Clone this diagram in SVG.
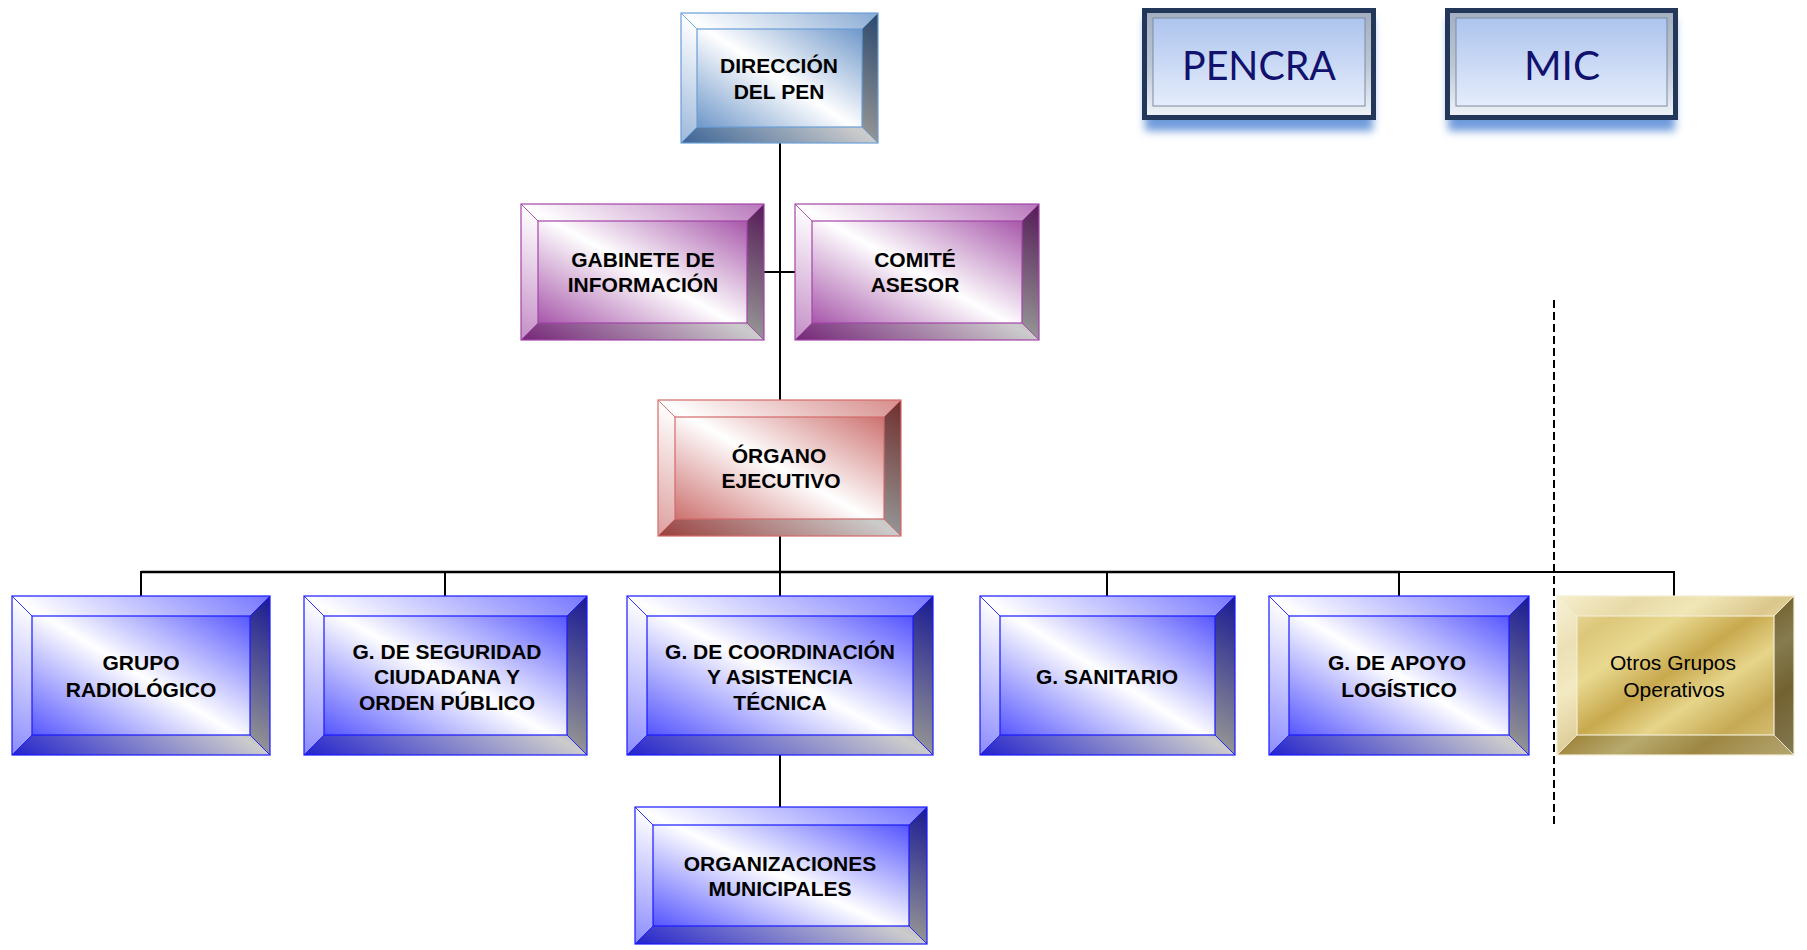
<svg xmlns="http://www.w3.org/2000/svg" width="1807" height="950" viewBox="0 0 1807 950">
<defs>
<style>
.bg{fill:#fff}
.bt{fill:#fff;fill-opacity:.35}
.bl{fill:#fff;fill-opacity:.45}
.br{fill:#000;fill-opacity:.42}
.bb{fill:#000;fill-opacity:.2}
.edge{fill:none;stroke-width:1.2}
.cl{fill:none;stroke-width:.9}
.blue .face{fill:url(#gBlue)} .blue .edge,.blue .cl{stroke:#1a1aff}
.purple .face{fill:url(#gPurple)} .purple .edge,.purple .cl{stroke:#a444a8}
.red .face{fill:url(#gRed)} .red .edge,.red .cl{stroke:#d46a6a}
.steel .face{fill:url(#gSteel)} .steel .edge,.steel .cl{stroke:#6a9ed8}
.gold .face{fill:url(#gGold)} .gold .edge,.gold .cl{stroke:#f3edd2}
.lbl{font-family:"Liberation Sans",Arial,sans-serif;font-weight:bold;font-size:21px;fill:#000;text-anchor:middle}
.lblr{font-family:"Liberation Sans",Arial,sans-serif;font-size:21px;fill:#000;text-anchor:middle}
.big{font-family:Lato,"Open Sans",sans-serif;font-size:41px;fill:#11116e;text-anchor:middle}
.conn{stroke:#000;stroke-width:2;fill:none}
.dash{stroke:#000;stroke-width:2;stroke-dasharray:8 4;fill:none}
.frame{fill:#22375a}
.ring{fill:url(#gRing)}
.pface{fill:url(#gFace);stroke:#7d8ba2;stroke-width:1}
.shadow{fill:#6f9bdb}
</style>
<linearGradient id="gBlue" x1="1" y1="0" x2="0" y2="1"><stop offset="0" stop-color="#2c2cff"/><stop offset="0.5" stop-color="#fff"/><stop offset="1" stop-color="#2c2cff"/></linearGradient>
<linearGradient id="gPurple" x1="1" y1="0" x2="0" y2="1"><stop offset="0" stop-color="#922f96"/><stop offset="0.5" stop-color="#fff"/><stop offset="1" stop-color="#922f96"/></linearGradient>
<linearGradient id="gRed" x1="1" y1="0" x2="0" y2="1"><stop offset="0" stop-color="#c0504d"/><stop offset="0.5" stop-color="#fff"/><stop offset="1" stop-color="#c0504d"/></linearGradient>
<linearGradient id="gSteel" x1="1" y1="0" x2="0" y2="1"><stop offset="0" stop-color="#4a7dbc"/><stop offset="0.5" stop-color="#fff"/><stop offset="1" stop-color="#4a7dbc"/></linearGradient>
<linearGradient id="gGold" x1="0" y1="0" x2="1" y2="1">
<stop offset="0" stop-color="#f1e7b6"/><stop offset="0.18" stop-color="#dcc77a"/><stop offset="0.32" stop-color="#e8d990"/><stop offset="0.48" stop-color="#c8a94e"/><stop offset="0.62" stop-color="#e6d58a"/><stop offset="0.78" stop-color="#c6a954"/><stop offset="1" stop-color="#e2d08e"/>
</linearGradient>
<linearGradient id="gFace" x1="0" y1="0" x2="0" y2="1"><stop offset="0" stop-color="#adc4ee"/><stop offset="1" stop-color="#e5edfb"/></linearGradient>
<linearGradient id="gRing" x1="0" y1="0" x2="0" y2="1"><stop offset="0" stop-color="#a4b0c2"/><stop offset="0.5" stop-color="#bcc6d4"/><stop offset="1" stop-color="#eef2f8"/></linearGradient>
<filter id="sh" x="-10%" y="-20%" width="120%" height="150%"><feGaussianBlur stdDeviation="4"/></filter>
</defs>
<rect class="bg" x="0" y="0" width="1807" height="950"/>

<g id="connectors">
<line class="conn" x1="780" y1="143" x2="780" y2="400"/>
<line class="conn" x1="764" y1="272" x2="795" y2="272"/>
<line class="conn" x1="780" y1="536" x2="780" y2="572"/>
<line class="conn" x1="141" y1="572" x2="1400" y2="572" style="stroke-width:2.6"/>
<line class="conn" x1="1400" y1="572" x2="1675" y2="572"/>
<line class="conn" x1="141" y1="571" x2="141" y2="596"/>
<line class="conn" x1="445" y1="571" x2="445" y2="596"/>
<line class="conn" x1="780" y1="571" x2="780" y2="596"/>
<line class="conn" x1="1107" y1="571" x2="1107" y2="596"/>
<line class="conn" x1="1399" y1="571" x2="1399" y2="596"/>
<line class="conn" x1="1674" y1="571" x2="1674" y2="596"/>
<line class="conn" x1="780" y1="755" x2="780" y2="807"/>
<line class="dash" x1="1554" y1="300" x2="1554" y2="826"/>
</g>

<g id="direccion" class="steel" transform="translate(681,13)">
<rect class="face" x="0" y="0" width="197" height="130"/>
<polygon class="bt" points="0,0 197,0 181,16 16,16"/>
<polygon class="br" points="197,0 197,130 181,114 181,16"/>
<polygon class="bb" points="0,130 197,130 181,114 16,114"/>
<polygon class="bl" points="0,0 0,130 16,114 16,16"/>
<rect class="edge" x="0" y="0" width="197" height="130"/>
<rect class="edge" x="16" y="16" width="165" height="98"/>
<path class="cl" d="M0,0L16,16M197,0L181,16M0,130L16,114M197,130L181,114"/>
<text class="lbl" x="98" y="60">DIRECCIÓN</text>
<text class="lbl" x="98" y="85.5">DEL PEN</text>
</g>

<g id="pencra" transform="translate(1142,8)">
<rect class="shadow" x="3" y="11" width="228" height="112" filter="url(#sh)"/>
<rect class="frame" x="0" y="0" width="234" height="112"/>
<rect class="ring" x="5" y="5" width="224" height="102"/>
<rect class="pface" x="11" y="10" width="212" height="88"/>
<text class="big" x="117" y="72" textLength="154" lengthAdjust="spacingAndGlyphs">PENCRA</text>
</g>

<g id="mic" transform="translate(1445,8)">
<rect class="shadow" x="3" y="11" width="227" height="112" filter="url(#sh)"/>
<rect class="frame" x="0" y="0" width="233" height="112"/>
<rect class="ring" x="5" y="5" width="223" height="102"/>
<rect class="pface" x="11" y="10" width="211" height="88"/>
<text class="big" x="117" y="72" textLength="76" lengthAdjust="spacingAndGlyphs">MIC</text>
</g>

<g id="gabinete" class="purple" transform="translate(521,204)">
<rect class="face" x="0" y="0" width="243" height="136"/>
<polygon class="bt" points="0,0 243,0 226,17 17,17"/>
<polygon class="br" points="243,0 243,136 226,119 226,17"/>
<polygon class="bb" points="0,136 243,136 226,119 17,119"/>
<polygon class="bl" points="0,0 0,136 17,119 17,17"/>
<rect class="edge" x="0" y="0" width="243" height="136"/>
<rect class="edge" x="17" y="17" width="209" height="102"/>
<path class="cl" d="M0,0L17,17M243,0L226,17M0,136L17,119M243,136L226,119"/>
<text class="lbl" x="122" y="62.5">GABINETE DE</text>
<text class="lbl" x="122" y="88">INFORMACIÓN</text>
</g>

<g id="comite" class="purple" transform="translate(795,204)">
<rect class="face" x="0" y="0" width="244" height="136"/>
<polygon class="bt" points="0,0 244,0 227,17 17,17"/>
<polygon class="br" points="244,0 244,136 227,119 227,17"/>
<polygon class="bb" points="0,136 244,136 227,119 17,119"/>
<polygon class="bl" points="0,0 0,136 17,119 17,17"/>
<rect class="edge" x="0" y="0" width="244" height="136"/>
<rect class="edge" x="17" y="17" width="210" height="102"/>
<path class="cl" d="M0,0L17,17M244,0L227,17M0,136L17,119M244,136L227,119"/>
<text class="lbl" x="120" y="62.5">COMITÉ</text>
<text class="lbl" x="120" y="88">ASESOR</text>
</g>

<g id="organo" class="red" transform="translate(658,400)">
<rect class="face" x="0" y="0" width="243" height="136"/>
<polygon class="bt" points="0,0 243,0 226,17 17,17"/>
<polygon class="br" points="243,0 243,136 226,119 226,17"/>
<polygon class="bb" points="0,136 243,136 226,119 17,119"/>
<polygon class="bl" points="0,0 0,136 17,119 17,17"/>
<rect class="edge" x="0" y="0" width="243" height="136"/>
<rect class="edge" x="17" y="17" width="209" height="102"/>
<path class="cl" d="M0,0L17,17M243,0L226,17M0,136L17,119M243,136L226,119"/>
<text class="lbl" x="121" y="62.5">ÓRGANO</text>
<text class="lbl" x="123" y="88">EJECUTIVO</text>
</g>

<g id="radiologico" class="blue" transform="translate(12,596)">
<rect class="face" x="0" y="0" width="258" height="159"/>
<polygon class="bt" points="0,0 258,0 238,20 20,20"/>
<polygon class="br" points="258,0 258,159 238,139 238,20"/>
<polygon class="bb" points="0,159 258,159 238,139 20,139"/>
<polygon class="bl" points="0,0 0,159 20,139 20,20"/>
<rect class="edge" x="0" y="0" width="258" height="159"/>
<rect class="edge" x="20" y="20" width="218" height="119"/>
<path class="cl" d="M0,0L20,20M258,0L238,20M0,159L20,139M258,159L238,139"/>
<text class="lbl" x="129" y="74">GRUPO</text>
<text class="lbl" x="129" y="100.5">RADIOLÓGICO</text>
</g>

<g id="seguridad" class="blue" transform="translate(304,596)">
<rect class="face" x="0" y="0" width="283" height="159"/>
<polygon class="bt" points="0,0 283,0 263,20 20,20"/>
<polygon class="br" points="283,0 283,159 263,139 263,20"/>
<polygon class="bb" points="0,159 283,159 263,139 20,139"/>
<polygon class="bl" points="0,0 0,159 20,139 20,20"/>
<rect class="edge" x="0" y="0" width="283" height="159"/>
<rect class="edge" x="20" y="20" width="243" height="119"/>
<path class="cl" d="M0,0L20,20M283,0L263,20M0,159L20,139M283,159L263,139"/>
<text class="lbl" x="143" y="62.5">G. DE SEGURIDAD</text>
<text class="lbl" x="143" y="88">CIUDADANA Y</text>
<text class="lbl" x="143" y="113.5">ORDEN PÚBLICO</text>
</g>

<g id="coordinacion" class="blue" transform="translate(627,596)">
<rect class="face" x="0" y="0" width="306" height="159"/>
<polygon class="bt" points="0,0 306,0 286,20 20,20"/>
<polygon class="br" points="306,0 306,159 286,139 286,20"/>
<polygon class="bb" points="0,159 306,159 286,139 20,139"/>
<polygon class="bl" points="0,0 0,159 20,139 20,20"/>
<rect class="edge" x="0" y="0" width="306" height="159"/>
<rect class="edge" x="20" y="20" width="266" height="119"/>
<path class="cl" d="M0,0L20,20M306,0L286,20M0,159L20,139M306,159L286,139"/>
<text class="lbl" x="153" y="62.5">G. DE COORDINACIÓN</text>
<text class="lbl" x="153" y="88">Y ASISTENCIA</text>
<text class="lbl" x="153" y="113.5">TÉCNICA</text>
</g>

<g id="sanitario" class="blue" transform="translate(980,596)">
<rect class="face" x="0" y="0" width="255" height="159"/>
<polygon class="bt" points="0,0 255,0 235,20 20,20"/>
<polygon class="br" points="255,0 255,159 235,139 235,20"/>
<polygon class="bb" points="0,159 255,159 235,139 20,139"/>
<polygon class="bl" points="0,0 0,159 20,139 20,20"/>
<rect class="edge" x="0" y="0" width="255" height="159"/>
<rect class="edge" x="20" y="20" width="215" height="119"/>
<path class="cl" d="M0,0L20,20M255,0L235,20M0,159L20,139M255,159L235,139"/>
<text class="lbl" x="127" y="87.5">G. SANITARIO</text>
</g>

<g id="apoyo" class="blue" transform="translate(1269,596)">
<rect class="face" x="0" y="0" width="260" height="159"/>
<polygon class="bt" points="0,0 260,0 240,20 20,20"/>
<polygon class="br" points="260,0 260,159 240,139 240,20"/>
<polygon class="bb" points="0,159 260,159 240,139 20,139"/>
<polygon class="bl" points="0,0 0,159 20,139 20,20"/>
<rect class="edge" x="0" y="0" width="260" height="159"/>
<rect class="edge" x="20" y="20" width="220" height="119"/>
<path class="cl" d="M0,0L20,20M260,0L240,20M0,159L20,139M260,159L240,139"/>
<text class="lbl" x="128" y="74">G. DE APOYO</text>
<text class="lbl" x="130" y="100.5">LOGÍSTICO</text>
</g>

<g id="otros" class="gold" transform="translate(1557,596)">
<rect class="face" x="0" y="0" width="237" height="159"/>
<polygon class="bt" points="0,0 237,0 217,20 20,20"/>
<polygon class="br" points="237,0 237,159 217,139 217,20"/>
<polygon class="bb" points="0,159 237,159 217,139 20,139"/>
<polygon class="bl" points="0,0 0,159 20,139 20,20"/>
<rect class="edge" x="0" y="0" width="237" height="159"/>
<rect class="edge" x="20" y="20" width="197" height="119"/>
<path class="cl" d="M0,0L20,20M237,0L217,20M0,159L20,139M237,159L217,139"/>
<text class="lblr" x="116" y="74">Otros Grupos</text>
<text class="lblr" x="117" y="100.5">Operativos</text>
</g>

<g id="municipales" class="blue" transform="translate(635,807)">
<rect class="face" x="0" y="0" width="292" height="137"/>
<polygon class="bt" points="0,0 292,0 274,18 18,18"/>
<polygon class="br" points="292,0 292,137 274,119 274,18"/>
<polygon class="bb" points="0,137 292,137 274,119 18,119"/>
<polygon class="bl" points="0,0 0,137 18,119 18,18"/>
<rect class="edge" x="0" y="0" width="292" height="137"/>
<rect class="edge" x="18" y="18" width="256" height="101"/>
<path class="cl" d="M0,0L18,18M292,0L274,18M0,137L18,119M292,137L274,119"/>
<text class="lbl" x="145" y="63.5">ORGANIZACIONES</text>
<text class="lbl" x="145" y="89">MUNICIPALES</text>
</g>
</svg>
